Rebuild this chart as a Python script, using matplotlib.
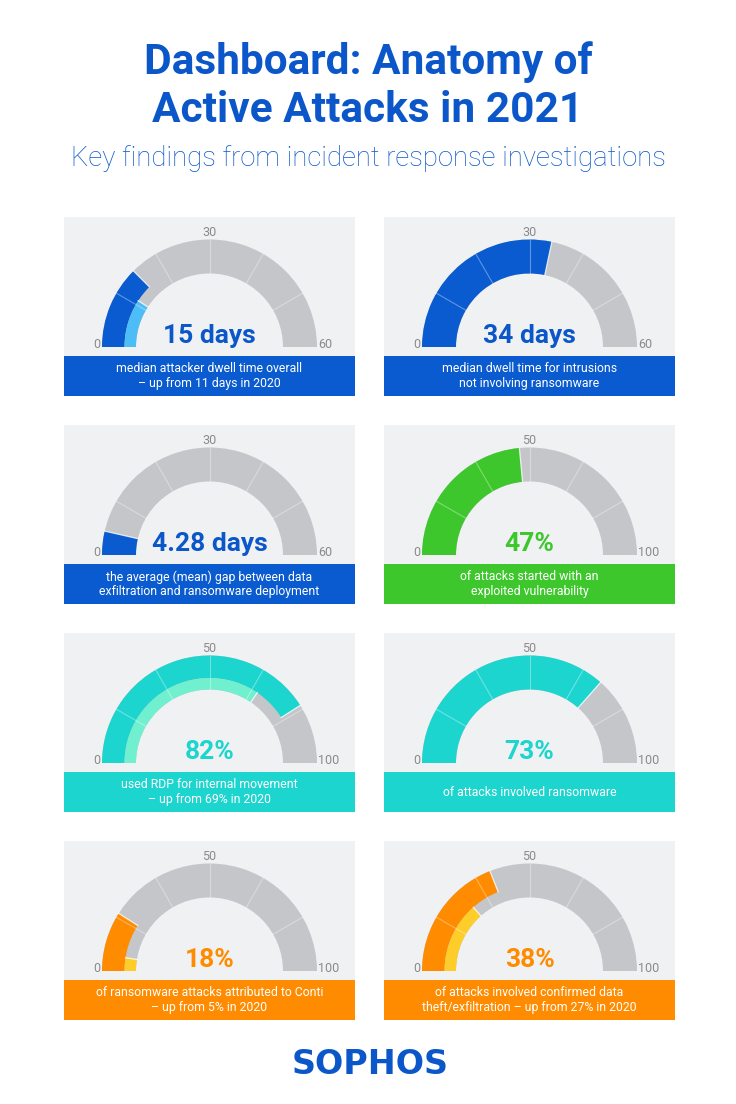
import numpy as np
import matplotlib.pyplot as plt
from matplotlib.patches import Wedge, Rectangle

# Daten der Anzeigen (links→rechts, oben→unten)
values = [15, 34, 4.28, 47, 82, 73, 18, 38]
prev_values = [11, None, None, None, 69, None, 5, 27]
scale_max = [60, 60, 60, 100, 100, 100, 100, 100]
value_labels = ["15 days", "34 days", "4.28 days", "47%", "82%", "73%", "18%", "38%"]
captions = [
    "median attacker dwell time overall\n– up from 11 days in 2020",
    "median dwell time for intrusions\nnot involving ransomware",
    "the average (mean) gap between data\nexfiltration and ransomware deployment",
    "of attacks started with an\nexploited vulnerability",
    "used RDP for internal movement\n– up from 69% in 2020",
    "of attacks involved ransomware",
    "of ransomware attacks attributed to Conti\n– up from 5% in 2020",
    "of attacks involved confirmed data\ntheft/exfiltration – up from 27% in 2020",
]
main_colors = ["#0a5bd0", "#0a5bd0", "#0a5bd0", "#3ec72c",
               "#1dd5cf", "#1dd5cf", "#ff8b00", "#ff8b00"]
prev_colors = ["#4dbdf7", None, None, None, "#70f0cf", None, "#ffcd2a", "#ffcd2a"]

W, H = 736, 1104
BLUE = "#0b57c9"
PANEL_BG = "#f0f1f3"
TRACK = "#c4c6ca"

fig = plt.figure(figsize=(W / 100, H / 100), dpi=100)
ax = fig.add_axes([0, 0, 1, 1])
ax.set_xlim(0, W)
ax.set_ylim(0, H)
ax.axis("off")


def Y(y):
    return H - y


# Titel
ax.text(W / 2, Y(62), "Dashboard: Anatomy of", ha="center", va="center",
        fontsize=30.5, fontweight="bold", family="Roboto", color=BLUE)
ax.text(W / 2, Y(110), "Active Attacks in 2021", ha="center", va="center",
        fontsize=30.5, fontweight="bold", family="Roboto", color=BLUE)
ax.text(W / 2, Y(158), "Key findings from incident response investigations",
        ha="center", va="center", fontsize=19.8, fontweight="light",
        family="Roboto", color=BLUE)

panel_x = [64, 384]
panel_w = 291
row_tops = [217, 425, 633, 841]
panel_h = 179
box_h = 40
R_out, R_in, R_mid = 107.5, 73.5, 85

for i in range(8):
    x0 = panel_x[i % 2]
    top = row_tops[i // 2]
    cx = x0 + panel_w / 2
    base = top + 130
    cy = Y(base)

    ax.add_patch(Rectangle((x0, Y(top + panel_h)), panel_w, panel_h,
                           facecolor=PANEL_BG, edgecolor="none"))
    ax.add_patch(Rectangle((x0, Y(top + panel_h)), panel_w, box_h,
                           facecolor=main_colors[i], edgecolor="none"))

    # Grundspur
    ax.add_patch(Wedge((cx, cy), R_out, 0, 180, width=R_out - R_in,
                       facecolor=TRACK, edgecolor="none"))
    th = 180 - 180 * values[i] / scale_max[i]
    if prev_values[i] is None:
        ax.add_patch(Wedge((cx, cy), R_out, th, 180, width=R_out - R_in,
                           facecolor=main_colors[i], edgecolor="none"))
    else:
        ax.add_patch(Wedge((cx, cy), R_out, th, 180, width=R_out - R_mid,
                           facecolor=main_colors[i], edgecolor="none"))
        th2 = 180 - 180 * prev_values[i] / scale_max[i]
        ax.add_patch(Wedge((cx, cy), R_mid, th2, 180, width=R_mid - R_in,
                           facecolor=prev_colors[i], edgecolor="none"))
        a = np.radians(th2)
        ax.plot([cx + R_in * np.cos(a), cx + R_mid * np.cos(a)],
                [cy + R_in * np.sin(a), cy + R_mid * np.sin(a)],
                color="white", lw=0.9, alpha=0.8)
    a = np.radians(th)
    r0 = R_mid if prev_values[i] is not None else R_in
    ax.plot([cx + r0 * np.cos(a), cx + R_out * np.cos(a)],
            [cy + r0 * np.sin(a), cy + R_out * np.sin(a)],
            color="white", lw=0.9, alpha=0.8)

    # Segmentlinien
    for d in range(30, 180, 30):
        a = np.radians(d)
        ax.plot([cx + R_in * np.cos(a), cx + R_out * np.cos(a)],
                [cy + R_in * np.sin(a), cy + R_out * np.sin(a)],
                color="white", lw=0.8, alpha=0.35)

    # Skala
    ax.text(cx - R_out - 2, cy - 1, "0", ha="right", va="baseline",
            fontsize=9, family="Roboto", color="#8a8a8a")
    ax.text(cx + R_out + 1, cy - 1, str(scale_max[i]), ha="left", va="baseline",
            fontsize=9, family="Roboto", color="#8a8a8a")
    ax.text(cx, cy + R_out + 3, str(scale_max[i] // 2), ha="center",
            va="baseline", fontsize=9, family="Roboto", color="#8a8a8a")

    vcol = BLUE if i < 3 else main_colors[i]
    ax.text(cx, cy + 4, value_labels[i], ha="center", va="baseline",
            fontsize=19, fontweight="bold", family="Roboto", color=vcol)

    ax.text(cx, Y(top + panel_h - box_h / 2), captions[i], ha="center",
            va="center", fontsize=8.8, family="Roboto", color="white",
            linespacing=1.1)

# Logo
ax.text(W / 2 + 2, Y(1064), "SOPHOS", ha="center", va="center",
        fontsize=24, fontweight="bold", family="DejaVu Sans", color=BLUE)

fig.savefig("out.png", dpi=100, facecolor="white")
